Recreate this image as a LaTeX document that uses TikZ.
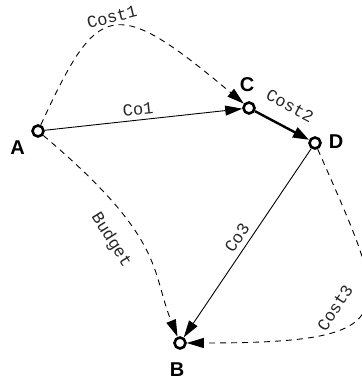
\documentclass[tikz,border=0pt]{standalone}
\usepackage{fontspec}
\setmainfont{Liberation Sans}
\newfontfamily\lblfont{Liberation Mono}
\usetikzlibrary{arrows.meta}
\begin{document}
\begin{tikzpicture}[x=1pt,y=-1pt,
  vertex/.style={circle,draw,line width=2.6pt,minimum size=11pt,inner sep=0pt},
  vname/.style={font=\fontsize{20}{20}\selectfont\bfseries,inner sep=0pt},
  lbl/.style={font=\lblfont\fontsize{17}{17}\selectfont,inner sep=0pt,text=black!85},
  conn/.style={line width=0.9pt,-{Triangle[length=17pt,width=10pt]}},
  dconn/.style={conn,dash pattern=on 6pt off 5pt},
  boldconn/.style={line width=2.4pt,-{Triangle[length=16pt,width=11pt]}}]
\useasboundingbox (0,0) rectangle (361,382);
\node[vertex] (A) at (38,131) {};
\node[vertex] (C) at (249,108) {};
\node[vertex] (D) at (315,143) {};
\node[vertex] (B) at (180,343) {};
\node[vname] (lA) at (17.5,148) {A};
\node[vname] (lC) at (247,85) {C};
\node[vname] (lD) at (336,142) {D};
\node[vname] (lB) at (177,370) {B};
% connectors
\draw[dconn] (A) .. controls (98,1) and (113,-6) .. (C);
\draw[conn] (A) -- (C);
\draw[boldconn] (C) -- (D);
\draw[conn] (D) -- (B);
\draw[dconn] (A) .. controls (166,239) and (151,271) .. (B);
\draw[dconn] (D) .. controls (391,316) and (410,343) .. (B);
% labels
\node[lbl,rotate=14] (t1) at (112,17) {Cost1};
\node[lbl,rotate=6] (t2) at (138,109) {Co1};
\node[lbl,rotate=-28] (t3) at (290,106) {Cost2};
\node[lbl,rotate=56] (t4) at (237,238) {Co3};
\node[lbl,rotate=-58] (t5) at (111,240) {Budget};
\node[lbl,rotate=57] (t6) at (335,308) {Cost3};
\end{tikzpicture}
\end{document}
